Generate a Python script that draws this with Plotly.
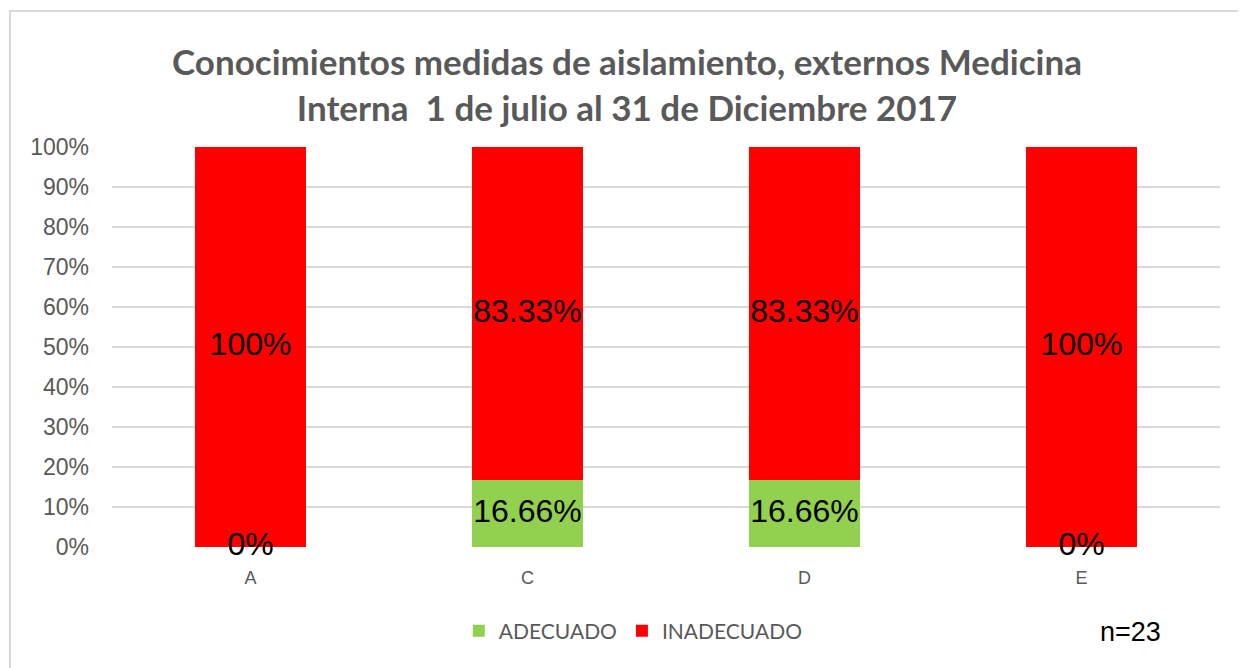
import plotly.graph_objects as go

# chart data
categories = ["A", "C", "D", "E"]
adecuado = [0, 16.66, 16.66, 0]
inadecuado = [100, 83.33, 83.33, 100]
y_ticks = [0, 10, 20, 30, 40, 50, 60, 70, 80, 90, 100]

GREEN = "#92D050"
RED = "#FF0000"
GRAY = "#595959"
GRID = "#D9D9D9"


def pct(v):
    return f"{v:g}%"


fig = go.Figure()
fig.add_trace(go.Bar(
    x=categories, y=adecuado, name="ADECUADO",
    marker=dict(color=GREEN, line=dict(width=0)),
))
fig.add_trace(go.Bar(
    x=categories, y=inadecuado, name="INADECUADO",
    marker=dict(color=RED, line=dict(width=0)),
))

# data labels centred on each segment
label_x, label_y, label_t = [], [], []
for c, a, i in zip(categories, adecuado, inadecuado):
    label_x += [c, c]
    label_y += [a / 2, a + i / 2]
    label_t += [pct(a), pct(i)]
fig.add_trace(go.Scatter(
    x=label_x, y=label_y, text=label_t, mode="text",
    textfont=dict(family="Liberation Sans, Arial", size=32, color="black"),
    showlegend=False, hoverinfo="skip", cliponaxis=False,
))

# page body adds an 8px margin, so the figure is 8px smaller
fig.update_layout(
    width=1238, height=660,
    paper_bgcolor="white", plot_bgcolor="white",
    barmode="stack", bargap=0.6,
    margin=dict(l=104, r=26, t=139, b=121),
    title=dict(
        text="Conocimientos medidas de aislamiento, externos Medicina<br>Interna  1 de julio al 31 de Diciembre 2017",
        x=0.5, xanchor="center", y=0.898, yanchor="middle",
        font=dict(family="Lato", size=35, color=GRAY, weight="bold"),
    ),
    xaxis=dict(
        tickfont=dict(family="Liberation Sans, Arial", size=18, color=GRAY),
        showgrid=False, zeroline=False, showline=False, ticks="",
        ticklabelstandoff=18,
    ),
    yaxis=dict(
        range=[0, 100], tickvals=y_ticks,
        ticktext=[pct(v) for v in y_ticks],
        tickfont=dict(family="Liberation Sans, Arial", size=23, color=GRAY),
        gridcolor=GRID, gridwidth=2, zeroline=False, showline=False,
        ticklabelstandoff=22,
    ),
    legend=dict(
        orientation="h", x=0.313, xanchor="left", y=-0.21, yanchor="middle",
        font=dict(family="Lato", size=21, color=GRAY),
        itemwidth=30, traceorder="normal",
    ),
    shapes=[dict(
        type="rect", xref="paper", yref="paper",
        x0=-0.0921, x1=1.2, y0=-0.6, y1=1.34,
        line=dict(color=GRID, width=2), layer="below",
    )],
    annotations=[dict(
        text="n=23", xref="paper", yref="paper",
        x=0.89, y=-0.213, xanchor="left", yanchor="middle",
        showarrow=False,
        font=dict(family="Liberation Sans, Arial", size=27, color="black"),
    )],
)

fig.write_html("out.html")
